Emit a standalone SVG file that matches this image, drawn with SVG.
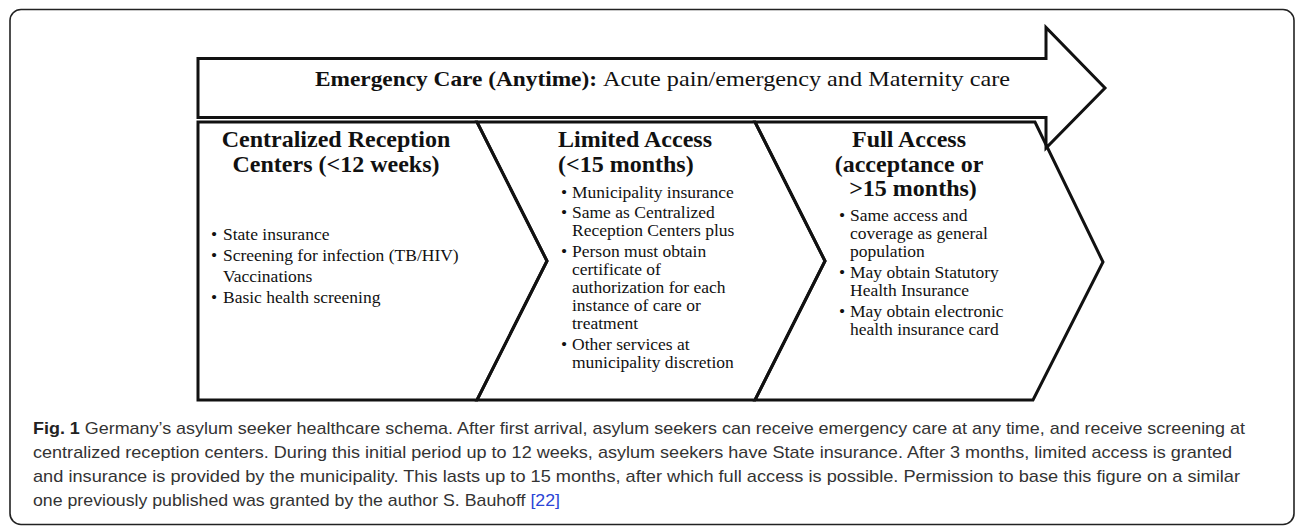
<svg xmlns="http://www.w3.org/2000/svg" width="1296" height="528" viewBox="0 0 1296 528">
<style>
.shape{fill:none;stroke:#111;stroke-width:3;stroke-linejoin:miter}
.hd{font-family:"Liberation Serif",serif;font-weight:bold;font-size:24px;fill:#111}
.bd{font-family:"Liberation Serif",serif;font-size:17.5px;fill:#111}
.em{font-family:"Liberation Serif",serif;font-size:22px;fill:#111}
.cap{font-family:"Liberation Sans",sans-serif;font-size:17px;fill:#333}
</style>
<rect x="10" y="9.5" width="1284" height="515" rx="11" fill="#fff" stroke="#222" stroke-width="1.6"/>
<g id="connectors"></g>
<g id="emergency">
<polygon class="shape" points="198,58.5 1046,58.5 1046,27.5 1105,88 1046,148 1046,117.5 198,117.5"/>
<text class="em" x="315" y="86" font-weight="bold" textLength="282" lengthAdjust="spacingAndGlyphs">Emergency Care (Anytime):</text>
<text class="em" x="603" y="86" textLength="407" lengthAdjust="spacingAndGlyphs">Acute pain/emergency and Maternity care</text>
</g>
<g id="centralized">
<polygon class="shape" points="198,122 477,122 547,261 477,400 198,400"/>
<text class="hd" x="336" y="147" text-anchor="middle">Centralized Reception</text>
<text class="hd" x="336" y="171.5" text-anchor="middle">Centers (&lt;12 weeks)</text>
<text class="bd" x="211" y="240">•</text><text class="bd" x="223" y="240">State insurance</text>
<text class="bd" x="211" y="261">•</text><text class="bd" x="223" y="261">Screening for infection (TB/HIV)</text>
<text class="bd" x="223" y="282">Vaccinations</text>
<text class="bd" x="211" y="303">•</text><text class="bd" x="223" y="303">Basic health screening</text>
</g>
<g id="limited">
<polygon class="shape" points="477,122 755,122 825,261 755,400 477,400 547,261"/>
<text class="hd" x="558" y="147">Limited Access</text>
<text class="hd" x="558" y="171.5">(&lt;15 months)</text>
<text class="bd" x="561" y="198">•</text><text class="bd" x="572" y="198">Municipality insurance</text>
<text class="bd" x="561" y="218">•</text><text class="bd" x="572" y="218">Same as Centralized</text>
<text class="bd" x="572" y="236">Reception Centers plus</text>
<text class="bd" x="561" y="257">•</text><text class="bd" x="572" y="257">Person must obtain</text>
<text class="bd" x="572" y="275">certificate of</text>
<text class="bd" x="572" y="293">authorization for each</text>
<text class="bd" x="572" y="311">instance of care or</text>
<text class="bd" x="572" y="329">treatment</text>
<text class="bd" x="561" y="350">•</text><text class="bd" x="572" y="350">Other services at</text>
<text class="bd" x="572" y="368">municipality discretion</text>
</g>
<g id="full">
<polygon class="shape" points="755,122 1035,122 1103,262 1033,400 755,400 825,261"/>
<text class="hd" x="909" y="147" text-anchor="middle">Full Access</text>
<text class="hd" x="909" y="171.5" text-anchor="middle">(acceptance or</text>
<text class="hd" x="913" y="196" text-anchor="middle">&gt;15 months)</text>
<text class="bd" x="839" y="221">•</text><text class="bd" x="850" y="221">Same access and</text>
<text class="bd" x="850" y="239">coverage as general</text>
<text class="bd" x="850" y="257">population</text>
<text class="bd" x="839" y="278">•</text><text class="bd" x="850" y="278">May obtain Statutory</text>
<text class="bd" x="850" y="296">Health Insurance</text>
<text class="bd" x="839" y="317">•</text><text class="bd" x="850" y="317">May obtain electronic</text>
<text class="bd" x="850" y="335">health insurance card</text>
</g>
<g id="caption">
<text class="cap" x="33" y="434" textLength="1212" lengthAdjust="spacingAndGlyphs"><tspan font-weight="bold" fill="#222">Fig. 1</tspan> Germany’s asylum seeker healthcare schema. After first arrival, asylum seekers can receive emergency care at any time, and receive screening at</text>
<text class="cap" x="33" y="458" textLength="1199" lengthAdjust="spacingAndGlyphs">centralized reception centers. During this initial period up to 12 weeks, asylum seekers have State insurance. After 3 months, limited access is granted</text>
<text class="cap" x="33" y="482" textLength="1207" lengthAdjust="spacingAndGlyphs">and insurance is provided by the municipality. This lasts up to 15 months, after which full access is possible. Permission to base this figure on a similar</text>
<text class="cap" x="33" y="506" textLength="527" lengthAdjust="spacingAndGlyphs">one previously published was granted by the author S. Bauhoff <tspan fill="#2b45d6">[22]</tspan></text>
</g>
</svg>
